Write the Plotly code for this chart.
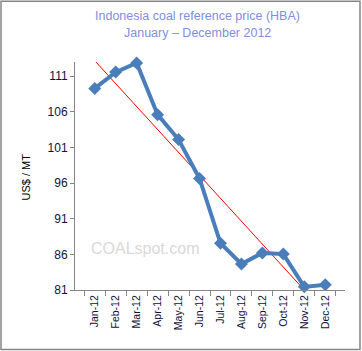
import numpy as np
import plotly.graph_objects as go

months = ["Jan-12", "Feb-12", "Mar-12", "Apr-12", "May-12", "Jun-12",
          "Jul-12", "Aug-12", "Sep-12", "Oct-12", "Nov-12", "Dec-12"]
hba = [109.29, 111.58, 112.87, 105.61, 102.12, 96.65,
       87.56, 84.65, 86.21, 86.04, 81.44, 81.75]
y_ticks = [81, 86, 91, 96, 101, 106, 111]

# Linear trendline (least squares), as in the original chart
xi = np.arange(1, len(hba) + 1)
slope, intercept = np.polyfit(xi, hba, 1)
trend = list(slope * xi + intercept)

W, H = 362, 351
L, R, T, B = 75, 17, 62, 61
pw, ph = W - L - R, H - T - B

def px(x):
    return (x - L) / pw

def py(y):
    return (H - B - y) / ph

fig = go.Figure()
fig.add_trace(go.Scatter(
    x=months, y=trend, mode="lines",
    line=dict(color="#ff0000", width=1), hoverinfo="skip"))
fig.add_trace(go.Scatter(
    x=months, y=hba, mode="lines+markers",
    line=dict(color="#4a7ebb", width=4),
    marker=dict(symbol="diamond", size=10, color="#4a7ebb"),
    cliponaxis=False))

axis_gray = "#868686"
tick_font = dict(family="Liberation Sans, Arial", size=12, color="#10103a")
title_font = dict(family="Liberation Sans, Arial", size=12.5, color="#7f8ee0")

fig.update_layout(
    width=W, height=H,
    margin=dict(l=L, r=R, t=T, b=B),
    paper_bgcolor="white", plot_bgcolor="white",
    showlegend=False,
    xaxis=dict(
        type="category", showgrid=False, zeroline=False,
        showline=True, linecolor=axis_gray, linewidth=1,
        ticks="outside", ticklen=5, tickcolor=axis_gray, tickson="boundaries",
        tickangle=-90,
        tickfont=dict(family="Liberation Sans, Arial", size=10.5, color="#10103a"),
    ),
    yaxis=dict(
        range=[81, 113], showgrid=False, zeroline=False,
        tickmode="array", tickvals=y_ticks, ticktext=[str(v) for v in y_ticks],
        showline=True, linecolor=axis_gray, linewidth=1,
        ticks="outside", ticklen=4, tickcolor=axis_gray,
        tickfont=tick_font,
    ),
    shapes=[dict(
        type="rect", xref="paper", yref="paper",
        x0=px(1), x1=px(360), y0=py(349.5), y1=py(1.2),
        line=dict(color=axis_gray, width=1.5), fillcolor="rgba(0,0,0,0)",
        layer="below")],
    annotations=[
        dict(text="Indonesia coal reference price (HBA)", xref="paper", yref="paper",
             x=px(197.5), y=py(16), showarrow=False, xanchor="center", yanchor="middle",
             font=title_font),
        dict(text="January \u2013 December 2012", xref="paper", yref="paper",
             x=px(197), y=py(32.5), showarrow=False, xanchor="center", yanchor="middle",
             font=title_font),
        dict(text="US$ / MT", xref="paper", yref="paper",
             x=px(25.5), y=py(177), showarrow=False, textangle=-90,
             xanchor="center", yanchor="middle",
             font=dict(family="Liberation Sans, Arial", size=11, color="#000000")),
        dict(text="COALspot.com", xref="paper", yref="paper",
             x=px(145), y=py(248.5), showarrow=False, xanchor="center", yanchor="middle",
             font=dict(family="Liberation Sans, Arial", size=16, color="#d9d9d9")),
    ],
)

fig.write_html("out.html")
